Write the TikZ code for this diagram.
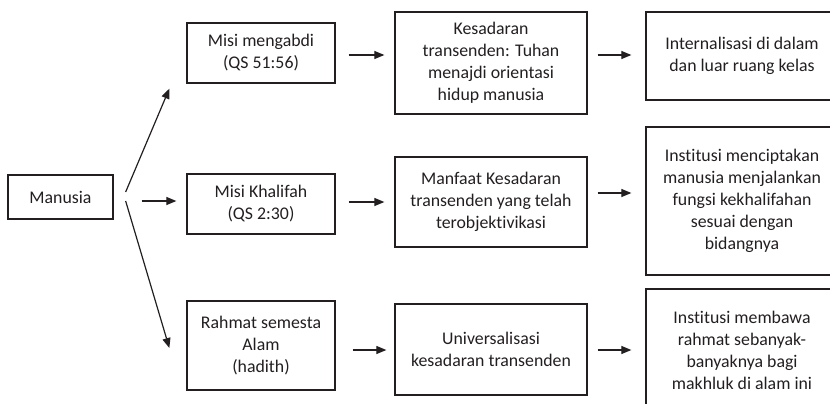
\documentclass[tikz,border=0pt]{standalone}
\usepackage{fontspec}
\setmainfont{Carlito}[Ligatures=NoCommon]
\usetikzlibrary{arrows.meta,calc}
\definecolor{ink}{RGB}{35,31,32}
\begin{document}
\begin{tikzpicture}[x=1pt,y=-1pt,
  box/.style={draw=ink,line width=1.3pt,align=center,inner sep=0pt,text=ink,
    font=\fontsize{17.8}{22}\selectfont},
  arr/.style={draw=ink,line width=1.2pt,-{Triangle[length=10pt,width=8pt]}}]
\useasboundingbox (0,0) rectangle (830,404);
\clip (0,0) rectangle (830,404);
\node[box,minimum width=105pt,minimum height=44pt] (man) at (60.5,197) {Manusia};
\node[box,minimum width=148pt,minimum height=60pt] (m1) at (261,53) {Misi mengabdi\\(QS 51:56)};
\node[box,minimum width=148pt,minimum height=60pt] (m2) at (261,204) {Misi Khalifah\\(QS 2:30)};
\node[box,minimum width=148pt,minimum height=89pt] (m3) at (261,345.5) {Rahmat semesta\\Alam\\(hadith)};
\node[box,minimum width=192pt,minimum height=102pt] (k1) at (491,63) {Kesadaran\\transenden: Tuhan\\menajdi orientasi\\hidup manusia};
\node[box,minimum width=192pt,minimum height=90pt] (k2) at (491,202) {Manfaat Kesadaran\\transenden yang telah\\terobjektivikasi};
\node[box,minimum width=192pt,minimum height=91pt] (k3) at (491,349.5) {Universalisasi\\kesadaran transenden};
\node[box,minimum width=192pt,minimum height=88pt] (r1) at (742,56) {Internalisasi di dalam\\dan luar ruang kelas};
\node[box,minimum width=192pt,minimum height=148pt] (r2) at (742,201) {Institusi menciptakan\\manusia menjalankan\\fungsi kekhalifahan\\sesuai dengan\\bidangnya};
\node[box,minimum width=192pt,minimum height=122pt] (r3) at (742,350) {Institusi membawa\\rahmat sebanyak-\\banyaknya bagi\\makhluk di alam ini};
% arrows from Manusia
\draw[arr] ($(man.east)+(12,-5)$) -- ($(m1.south west)+(-17,5)$);
\draw[arr,shorten <=28pt,shorten >=10pt] (man.east |- 0,201) -- (m2.west |- 0,201);
\draw[arr] ($(man.east)+(12,4)$) -- ($(m3.west)+(-17,2.5)$);
% second column
\draw[arr,shorten <=13pt,shorten >=10pt] (m1.east |- 0,55) -- (k1.west |- 0,55);
\draw[arr,shorten <=13pt,shorten >=10pt] (m2.east |- 0,202) -- (k2.west |- 0,202);
\draw[arr,shorten <=17pt,shorten >=8pt] (m3.east |- 0,350) -- (k3.west |- 0,350);
% third column
\draw[arr,shorten <=10pt,shorten >=14pt] (k1.east |- 0,55) -- (r1.west |- 0,55);
\draw[arr,shorten <=10pt,shorten >=14pt] (k2.east |- 0,193) -- (r2.west |- 0,193);
\draw[arr,shorten <=10pt,shorten >=14pt] (k3.east |- 0,350) -- (r3.west |- 0,350);
\end{tikzpicture}
\end{document}
